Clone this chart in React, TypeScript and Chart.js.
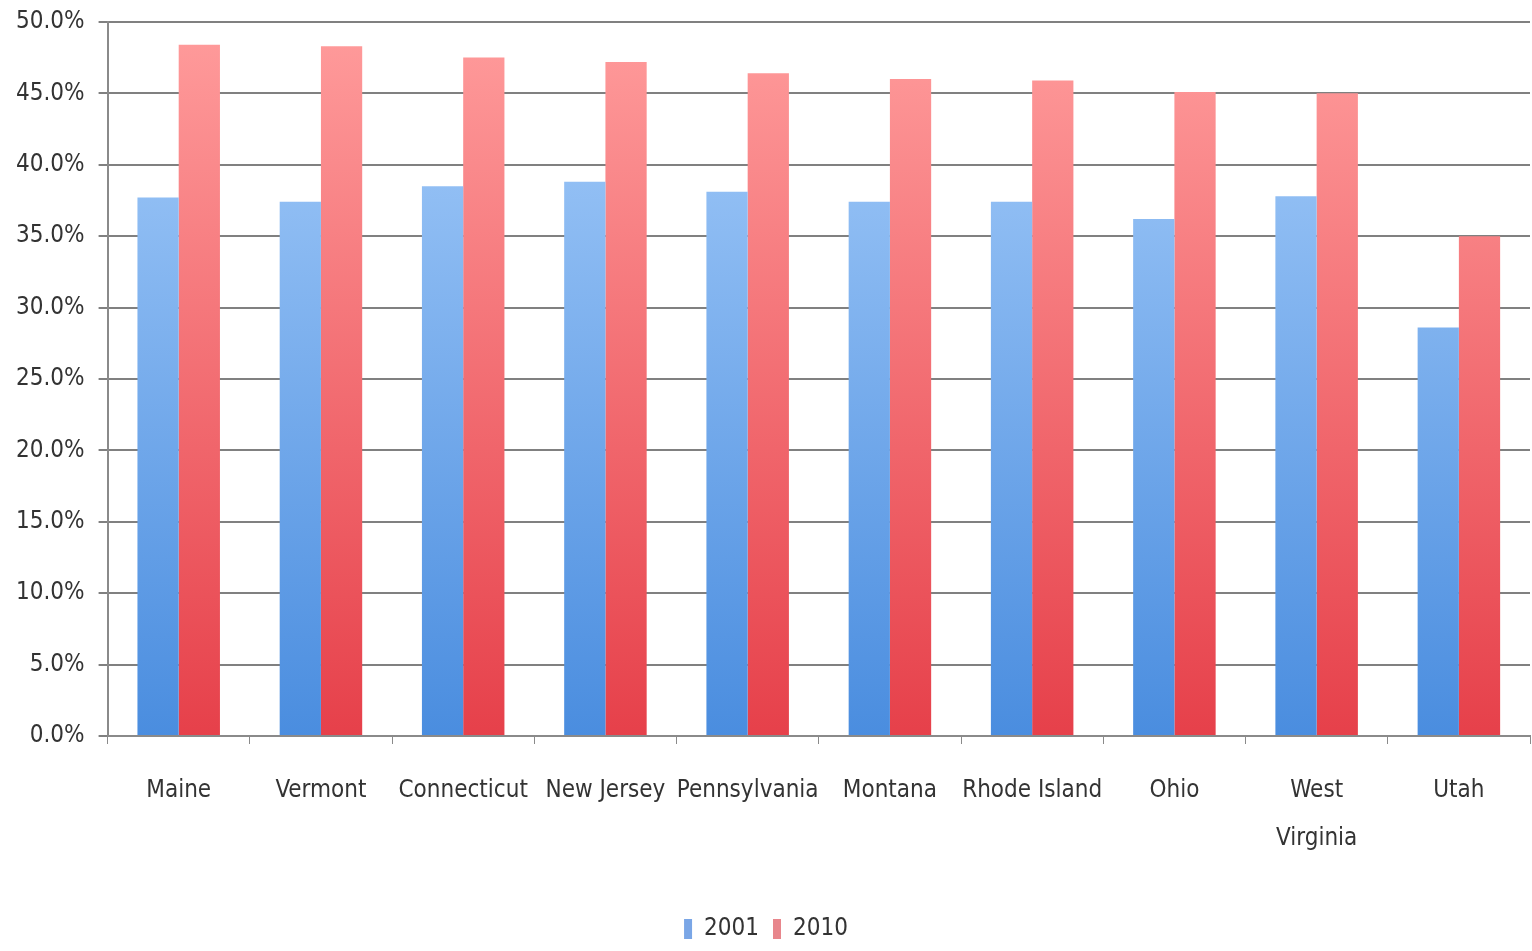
import React, { useEffect, useRef } from "react";
import { Chart, registerables } from "chart.js";

Chart.register(...registerables);

const states = [
  "Maine",
  "Vermont",
  "Connecticut",
  "New Jersey",
  "Pennsylvania",
  "Montana",
  "Rhode Island",
  "Ohio",
  ["West", "Virginia"],
  "Utah",
];
const values2001 = [37.7, 37.4, 38.5, 38.8, 38.1, 37.4, 37.4, 36.2, 37.8, 28.6];
const values2010 = [48.4, 48.3, 47.5, 47.2, 46.4, 46.0, 45.9, 45.1, 45.0, 35.0];
const seriesLabels = ["2001", "2010"];

const FONT = "'Liberation Sans Narrow', 'DejaVu Sans Condensed', 'Open Sans', sans-serif";

function makeGradient(ctx: any, top: string, bottom: string, solid: string) {
  const chart = ctx.chart;
  const area = chart.chartArea;
  if (!area) return solid;
  const g = chart.ctx.createLinearGradient(0, area.top, 0, area.bottom);
  g.addColorStop(0, top);
  g.addColorStop(1, bottom);
  return g;
}

export default function App() {
  const ref = useRef<HTMLCanvasElement | null>(null);

  useEffect(() => {
    document.body.style.margin = "0";
    const canvas = ref.current;
    if (!canvas) return;
    const chart = new Chart(canvas, {
      type: "bar",
      data: {
        labels: states as any,
        datasets: [
          {
            label: seriesLabels[0],
            data: values2001,
            backgroundColor: (c: any) => makeGradient(c, "#a6cdfa", "#4a8ddf", "#6fa6ec"),
            borderWidth: 0,
          },
          {
            label: seriesLabels[1],
            data: values2010,
            backgroundColor: (c: any) => makeGradient(c, "#ff9c9c", "#e6404a", "#f06a70"),
            borderWidth: 0,
          },
        ],
      },
      options: {
        animation: false,
        responsive: false,
        maintainAspectRatio: false,
        layout: { padding: { top: 0, right: 2, left: 2, bottom: 0 } },
        datasets: {
          bar: { categoryPercentage: 0.58, barPercentage: 1 },
        },
        plugins: {
          legend: {
            position: "bottom",
            title: {
              display: true,
              text: " ",
              font: { size: 10 },
              padding: { top: 0, bottom: 5 },
            },
            labels: {
              font: { family: FONT, size: 24 },
              color: "#333",
              boxWidth: 8,
              boxHeight: 20,
              padding: 14,
              generateLabels: () => [
                { text: seriesLabels[0], fillStyle: "#7aa6e6", strokeStyle: "#7aa6e6", lineWidth: 0, datasetIndex: 0, fontColor: "#333" },
                { text: seriesLabels[1], fillStyle: "#e8868c", strokeStyle: "#e8868c", lineWidth: 0, datasetIndex: 1, fontColor: "#333" },
              ],
            },
          },
          tooltip: { enabled: false },
        },
        scales: {
          x: {
            grid: {
              display: true,
              drawOnChartArea: false,
              color: "#8a8a8a",
              lineWidth: 1,
              tickLength: 8,
              offset: true,
            },
            border: { display: true, color: "#8a8a8a", width: 2 },
            ticks: {
              font: { family: FONT, size: 24, lineHeight: 2 },
              color: "#333",
              padding: 23,
              maxRotation: 0,
              autoSkip: false,
            },
          },
          y: {
            min: 0,
            max: 50,
            ticks: {
              stepSize: 5,
              font: { family: FONT, size: 24, lineHeight: 0.66 },
              color: "#333",
              padding: 14,
              callback: (v: any) => Number(v).toFixed(1) + "%",
            },
            grid: {
              color: "#808080",
              lineWidth: 2,
              tickLength: 9,
            },
            border: { display: true, color: "#8a8a8a", width: 2 },
          },
        },
      },
    });
    return () => chart.destroy();
  }, []);

  return (
    <div style={{ position: "absolute", left: 0, top: 0, width: 1532, height: 951, background: "#fff" }}>
      <canvas ref={ref} width={1532} height={951} style={{ display: "block" }} />
    </div>
  );
}
